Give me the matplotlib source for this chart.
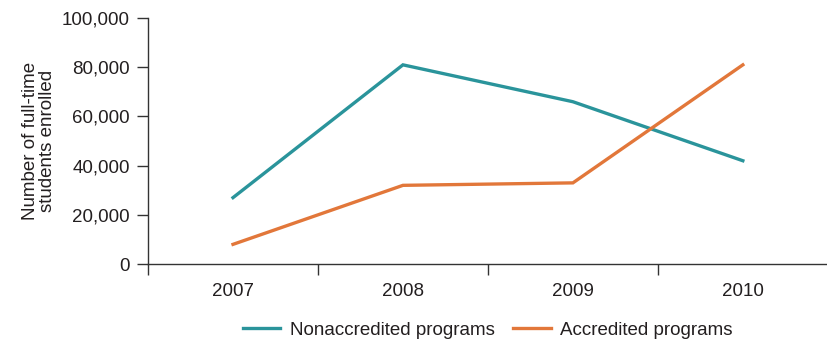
import matplotlib.pyplot as plt
from matplotlib.ticker import FuncFormatter
import numpy as np

years = ['2007', '2008', '2009', '2010']
nonaccredited = [27000, 81000, 66000, 42000]
accredited = [8000, 32000, 33000, 81000]

plt.rcParams['font.family'] = ['Liberation Sans Narrow', 'Liberation Sans', 'DejaVu Sans']
text_color = '#231f20'


def main():
    fig = plt.figure(figsize=(8.27, 3.42), dpi=100)
    ax = fig.add_axes([0.179, 0.228, 0.822, 0.719])

    x = np.arange(len(years))
    ax.plot(x, nonaccredited, color='#2a949b', lw=2.4, label='Nonaccredited programs',
            solid_joinstyle='miter')
    ax.plot(x, accredited, color='#e2773a', lw=2.4, label='Accredited programs',
            solid_joinstyle='miter')

    ax.set_xlim(-0.5, len(years) - 0.5)
    ax.set_ylim(0, 100000)
    ax.set_yticks(range(0, 100001, 20000))
    ax.yaxis.set_major_formatter(FuncFormatter(lambda v, p: f'{int(v):,}'))

    # category boundaries get tick marks, labels sit in between
    ax.set_xticks(np.arange(-0.5, len(years) - 0.5, 1.0))
    ax.set_xticklabels([])
    ax.set_xticks(x, minor=True)
    ax.set_xticklabels(years, minor=True)
    ax.tick_params(axis='both', which='both', labelsize=13.5, labelcolor=text_color)
    ax.tick_params(axis='x', which='minor', length=0, pad=14)
    ax.tick_params(axis='x', which='major', length=8, width=1, color='#333333')
    ax.tick_params(axis='y', length=8, width=1, color='#333333', pad=5)

    for side in ['top', 'right']:
        ax.spines[side].set_visible(False)
    for side in ['left', 'bottom']:
        ax.spines[side].set_color('#333333')
        ax.spines[side].set_linewidth(1)

    ax.set_ylabel('Number of full-time\nstudents enrolled', fontsize=13.5,
                  color=text_color, linespacing=1.05)
    ax.yaxis.set_label_coords(-0.135, 0.5)

    fig.legend(loc='lower center', bbox_to_anchor=(0.59, -0.04), ncol=2, frameon=False,
               fontsize=13.5, handlelength=2.0, columnspacing=1.0, handletextpad=0.5,
               labelcolor=text_color)

    fig.savefig('out.png', dpi=100)


if __name__ == '__main__':
    main()
